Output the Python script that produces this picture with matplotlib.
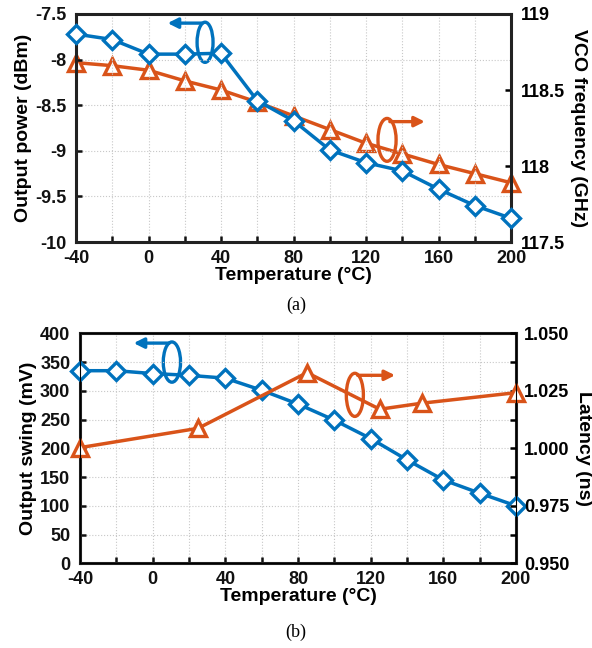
import numpy as np
import matplotlib.pyplot as plt
from matplotlib.patches import Ellipse

plt.rcParams['font.family'] = ['Liberation Sans', 'DejaVu Sans']
plt.rcParams['font.weight'] = 'bold'

blue = '#0072BD'
orange = '#D95319'

# (a) data
temp_a = [-40, -20, 0, 20, 40, 60, 80, 100, 120, 140, 160, 180, 200]
power = [-7.72, -7.78, -7.94, -7.94, -7.93, -8.45, -8.67, -8.99, -9.13, -9.22, -9.42, -9.60, -9.74]
vco = [118.68, 118.66, 118.63, 118.56, 118.50, 118.42, 118.33, 118.24, 118.15, 118.08, 118.01, 117.95, 117.89]

# (b) data
temp_swing = [-40, -20, 0, 20, 40, 60, 80, 100, 120, 140, 160, 180, 200]
swing = [335, 335, 330, 327, 322, 301, 277, 249, 217, 180, 145, 122, 100]
temp_lat = [-40, 25, 85, 125, 148, 200]
latency = [1.0003, 1.0087, 1.0329, 1.0170, 1.0196, 1.0242]

fig = plt.figure(figsize=(5.92, 6.48), dpi=100)

xt = np.arange(-40, 201, 20)
xl = [str(v) if v % 40 == 0 else '' for v in xt]
fs = 13    # tick labels
lfs = 14   # axis labels


def style(ax):
    ax.set_xlim(-40, 200)
    ax.set_xticks(xt)
    ax.set_xticklabels(xl)
    ax.tick_params(direction='in', width=1.8, length=4.5, labelsize=fs, colors='#111111')
    ax.tick_params(axis='x', pad=5.5)
    ax.tick_params(axis='y', pad=7)
    ax.grid(True, ls=':', color='#c8c8c8', lw=0.8)
    for s in ax.spines.values():
        s.set_linewidth(2.2)
        s.set_color('#222222')


dia = dict(lw=2.5, markersize=9, markerfacecolor='white', markeredgewidth=2.4)
tri = dict(lw=2.5, markersize=11, markerfacecolor='white', markeredgewidth=2.4)

# ---- (a)
ax1 = fig.add_axes([0.1284, 0.6265, 0.7348, 0.3519])
style(ax1)
ax1.set_ylim(-10, -7.5)
ax1.set_yticks([-10, -9.5, -9, -8.5, -8, -7.5])
ax1.set_yticklabels(['-10', '-9.5', '-9', '-8.5', '-8', '-7.5'])
ax1.set_ylabel('Output power (dBm)', fontsize=lfs, fontweight='bold', labelpad=2)
ax1.set_xlabel('Temperature (°C)', fontsize=lfs, fontweight='bold', labelpad=0)
ax1r = ax1.twinx()
ax1r.set_ylim(117.5, 119)
ax1r.set_yticks([117.5, 118, 118.5, 119])
ax1r.set_yticklabels(['117.5', '118', '118.5', '119'])
ax1r.tick_params(direction='in', width=1.8, length=4.5, labelsize=fs, pad=7)
ax1r.set_ylabel('VCO frequency (GHz)', fontsize=lfs, fontweight='bold', rotation=270,
                va='bottom', labelpad=4)
ax1.plot(temp_a, power, color=blue, marker='D', zorder=3, clip_on=False, **dia)
ax1r.plot(temp_a, vco, color=orange, marker='^', clip_on=False, **tri)
ax1.set_zorder(ax1r.get_zorder() + 1)
ax1.patch.set_visible(False)

ax1.add_patch(Ellipse((31.2, -7.81), 8.8, 0.44, fill=False, ec=blue, lw=2.4))
ax1.annotate('', xy=(9, -7.60), xytext=(31.2, -7.60),
             arrowprops=dict(arrowstyle='-|>', color=blue, lw=2.4, mutation_scale=15))
ax1.add_patch(Ellipse((131.6, -8.88), 10, 0.47, fill=False, ec=orange, lw=2.4, zorder=4))
ax1.annotate('', xy=(154, -8.68), xytext=(131.6, -8.68),
             arrowprops=dict(arrowstyle='-|>', color=orange, lw=2.4, mutation_scale=15))
fig.text(0.5, 1 - 305 / 648, '(a)', ha='center', va='center', fontsize=13,
         family='Liberation Serif', fontweight='normal')

# ---- (b)
ax2 = fig.add_axes([0.1351, 0.1307, 0.7365, 0.3549])
style(ax2)
ax2.set_ylim(0, 400)
ax2.set_yticks(np.arange(0, 401, 50))
ax2.set_ylabel('Output swing (mV)', fontsize=lfs, fontweight='bold', labelpad=2)
ax2.set_xlabel('Temperature (°C)', fontsize=lfs, fontweight='bold', labelpad=0)
ax2r = ax2.twinx()
ax2r.set_ylim(0.95, 1.05)
ax2r.set_yticks(np.arange(0.95, 1.0501, 0.0125))
ax2r.set_yticklabels(['0.950', '', '0.975', '', '1.000', '', '1.025', '', '1.050'])
ax2r.tick_params(direction='in', width=1.8, length=4.5, labelsize=fs, pad=6)
ax2r.set_ylabel('Latency (ns)', fontsize=lfs, fontweight='bold', rotation=270,
                va='bottom', labelpad=4)
ax2.plot(temp_swing, swing, color=blue, marker='D', zorder=3, clip_on=False, **dia)
ax2r.plot(temp_lat, latency, color=orange, marker='^', clip_on=False, **tri)

ax2.add_patch(Ellipse((10.6, 350), 9.5, 70, fill=False, ec=blue, lw=2.4))
ax2.annotate('', xy=(-12, 383), xytext=(10.6, 383),
             arrowprops=dict(arrowstyle='-|>', color=blue, lw=2.4, mutation_scale=15))
ax2.add_patch(Ellipse((111.3, 293), 9.4, 75, fill=False, ec=orange, lw=2.4, zorder=4))
ax2.annotate('', xy=(135, 327), xytext=(111.3, 327),
             arrowprops=dict(arrowstyle='-|>', color=orange, lw=2.4, mutation_scale=15))
fig.text(0.5, 1 - 632 / 648, '(b)', ha='center', va='center', fontsize=13,
         family='Liberation Serif', fontweight='normal')

fig.savefig('out.png', dpi=100)
